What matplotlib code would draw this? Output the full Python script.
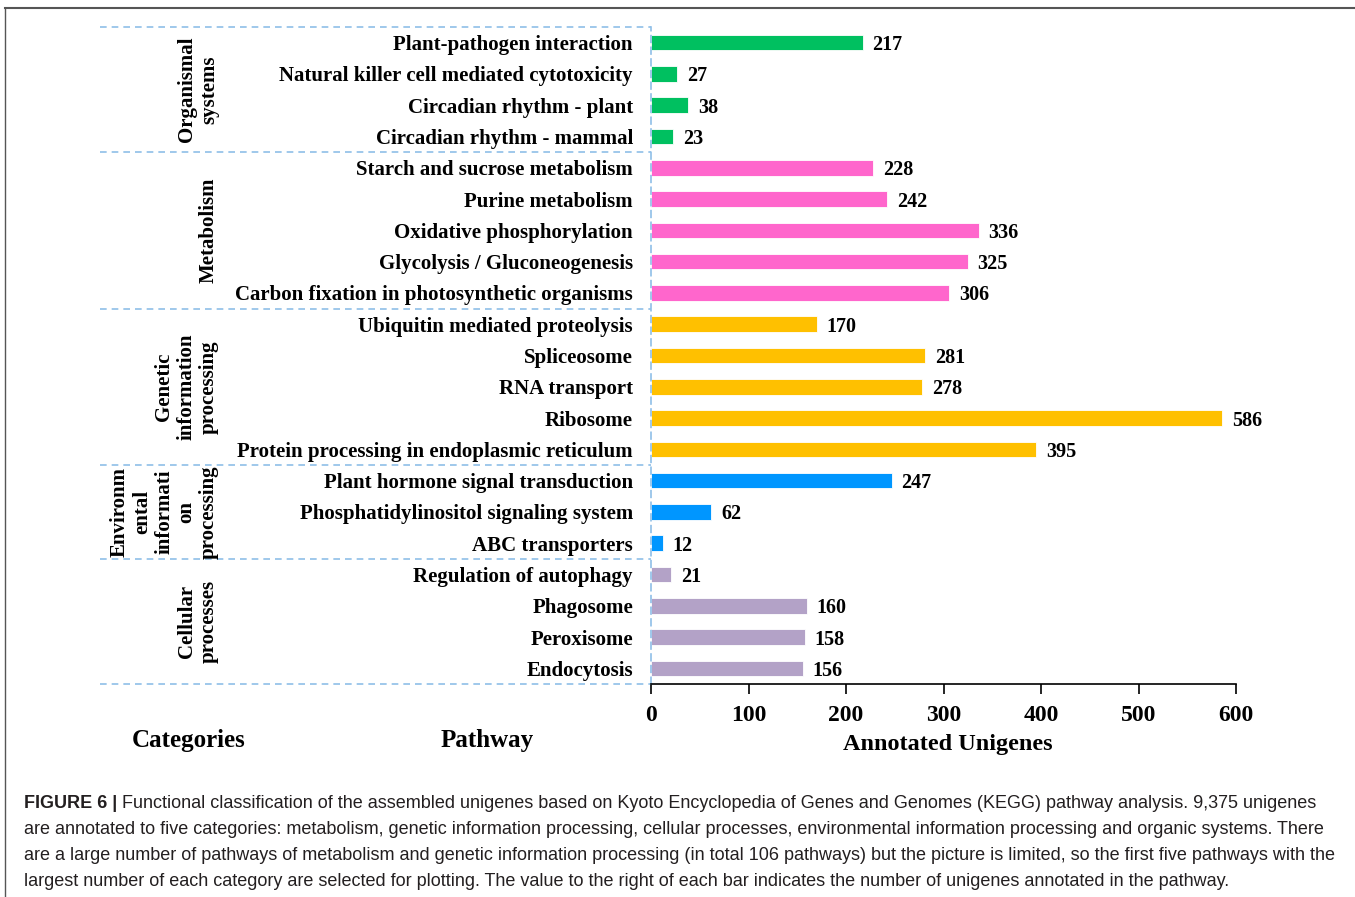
import matplotlib
matplotlib.use("Agg")
import matplotlib.pyplot as plt
from matplotlib.lines import Line2D
from matplotlib import font_manager
import matplotlib.transforms as mtransforms

# ---- data -------------------------------------------------------------
pathways = [
    "Plant-pathogen interaction",
    "Natural killer cell mediated cytotoxicity",
    "Circadian rhythm - plant",
    "Circadian rhythm - mammal",
    "Starch and sucrose metabolism",
    "Purine metabolism",
    "Oxidative phosphorylation",
    "Glycolysis / Gluconeogenesis",
    "Carbon fixation in photosynthetic organisms",
    "Ubiquitin mediated proteolysis",
    "Spliceosome",
    "RNA transport",
    "Ribosome",
    "Protein processing in endoplasmic reticulum",
    "Plant hormone signal transduction",
    "Phosphatidylinositol signaling system",
    "ABC transporters",
    "Regulation of autophagy",
    "Phagosome",
    "Peroxisome",
    "Endocytosis",
]
unigenes = [217, 27, 38, 23,
            228, 242, 336, 325, 306,
            170, 281, 278, 586, 395,
            247, 62, 12,
            21, 160, 158, 156]
categories = ["Organismal\nsystems", "Metabolism",
              "Genetic\ninformation\nprocessing",
              "Environm\nental\ninformati\non\nprocessing",
              "Cellular\nprocesses"]
category_sizes = [4, 5, 5, 3, 4]
category_colors = ["#00C060", "#FF66CC", "#FFC000", "#0096FF", "#B3A2C7"]
x_ticks = [0, 100, 200, 300, 400, 500, 600]

caption_bold = "FIGURE 6 |"
caption_lines = [
    " Functional classification of the assembled unigenes based on Kyoto Encyclopedia of Genes and Genomes (KEGG) pathway analysis. 9,375 unigenes",
    "are annotated to five categories: metabolism, genetic information processing, cellular processes, environmental information processing and organic systems. There",
    "are a large number of pathways of metabolism and genetic information processing (in total 106 pathways) but the picture is limited, so the first five pathways with the",
    "largest number of each category are selected for plotting. The value to the right of each bar indicates the number of unigenes annotated in the pathway.",
]

# ---- figure -----------------------------------------------------------
W, H, DPI = 1355, 897, 100
fig = plt.figure(figsize=(W / DPI, H / DPI), dpi=DPI)
fig.patch.set_facecolor("white")

serif = "Liberation Serif"
available = {f.name for f in font_manager.fontManager.ttflist}
cap_font = "Liberation Sans Narrow" if "Liberation Sans Narrow" in available else "Liberation Sans"

ax = fig.add_axes([651 / W, 1 - 684 / H, (1236 - 651) / W, (684 - 27) / H])

bar_colors = []
for c, n in zip(category_colors, category_sizes):
    bar_colors += [c] * n

ypos = list(range(len(pathways)))
ax.barh(ypos, unigenes, height=0.5, color=bar_colors, edgecolor="white",
        linewidth=0.6)
for y, v in zip(ypos, unigenes):
    ax.annotate(str(v), (v, y), xytext=(7, 0), textcoords="offset points",
                va="center_baseline", ha="left", fontsize=14.5,
                fontweight="bold", family=serif)

ax.set_xlim(0, 600)
ax.set_ylim(len(pathways) - 0.5, -0.5)
ax.set_xticks(x_ticks)
ax.set_xticklabels([str(t) for t in x_ticks], fontsize=17, fontweight="bold",
                   family=serif)
ax.set_yticks(ypos)
ax.set_yticklabels(pathways, fontsize=15, fontweight="bold", family=serif,
                   va="center_baseline")
ax.tick_params(axis="y", length=0, pad=13)
ax.tick_params(axis="x", direction="out", length=7, width=1.2, pad=8,
               color="black")

for s in ("top", "right"):
    ax.spines[s].set_visible(False)
ax.spines["bottom"].set_color("black")
ax.spines["bottom"].set_linewidth(1.2)
ax.spines["left"].set_color("#8FBFE8")
ax.spines["left"].set_linestyle((0, (4, 3)))
ax.spines["left"].set_linewidth(1.2)

# dashed group separators reaching to the category column
trans = mtransforms.blended_transform_factory(ax.transAxes, ax.transData)
x_left = (100 - 651) / (1236 - 651)
bounds = [-0.5]
acc = 0
for n in category_sizes:
    acc += n
    bounds.append(acc - 0.5)
for b in bounds:
    ax.add_line(Line2D([x_left, 0], [b, b], transform=trans, clip_on=False,
                       color="#8FBFE8", linestyle=(0, (4, 3)), linewidth=1.2))

# category names, rotated
fig_px = lambda px, py: (px / W, 1 - py / H)
for i, (name, n) in enumerate(zip(categories, category_sizes)):
    mid = (bounds[i] + bounds[i + 1]) / 2
    ax.text(((219 - 651) / (1236 - 651)), mid, name, transform=trans,
            rotation=90, ha="right", va="center", multialignment="center",
            fontsize=15, fontweight="bold", family=serif, linespacing=1.16)

# column headings
fig.text(*fig_px(189, 740), "Categories", ha="center", va="center",
         fontsize=18, fontweight="bold", family=serif)
fig.text(*fig_px(487, 740), "Pathway", ha="center", va="center",
         fontsize=18, fontweight="bold", family=serif)
fig.text(*fig_px(948, 744), "Annotated Unigenes", ha="center", va="center",
         fontsize=17.5, fontweight="bold", family=serif)

# outer frame (top and left edges)
fig.add_artist(Line2D([5 / W, 1], [1 - 8.5 / H, 1 - 8.5 / H],
                      transform=fig.transFigure, color="#555555", linewidth=1.5))
fig.add_artist(Line2D([5 / W, 5 / W], [0, 1 - 8.5 / H],
                      transform=fig.transFigure, color="#555555", linewidth=1.0))

# caption, sized so that the first line spans the text block
renderer = fig.canvas.get_renderer()
probe = fig.text(0, 0, caption_bold + caption_lines[0], fontsize=10,
                 family=cap_font)
w10 = probe.get_window_extent(renderer).width
probe.remove()
cap_size = 10 * (1318 - 24) / w10

y0 = 803
for k, line in enumerate(caption_lines):
    x = 24
    if k == 0:
        tb = fig.text(*fig_px(x, y0), caption_bold, fontsize=cap_size,
                      fontweight="bold", family=cap_font, va="center",
                      color="#231F20")
        x += tb.get_window_extent(renderer).width
    fig.text(*fig_px(x, y0 + 26 * k), line, fontsize=cap_size,
             family=cap_font, va="center", color="#231F20")

fig.savefig("out.png", dpi=DPI)
